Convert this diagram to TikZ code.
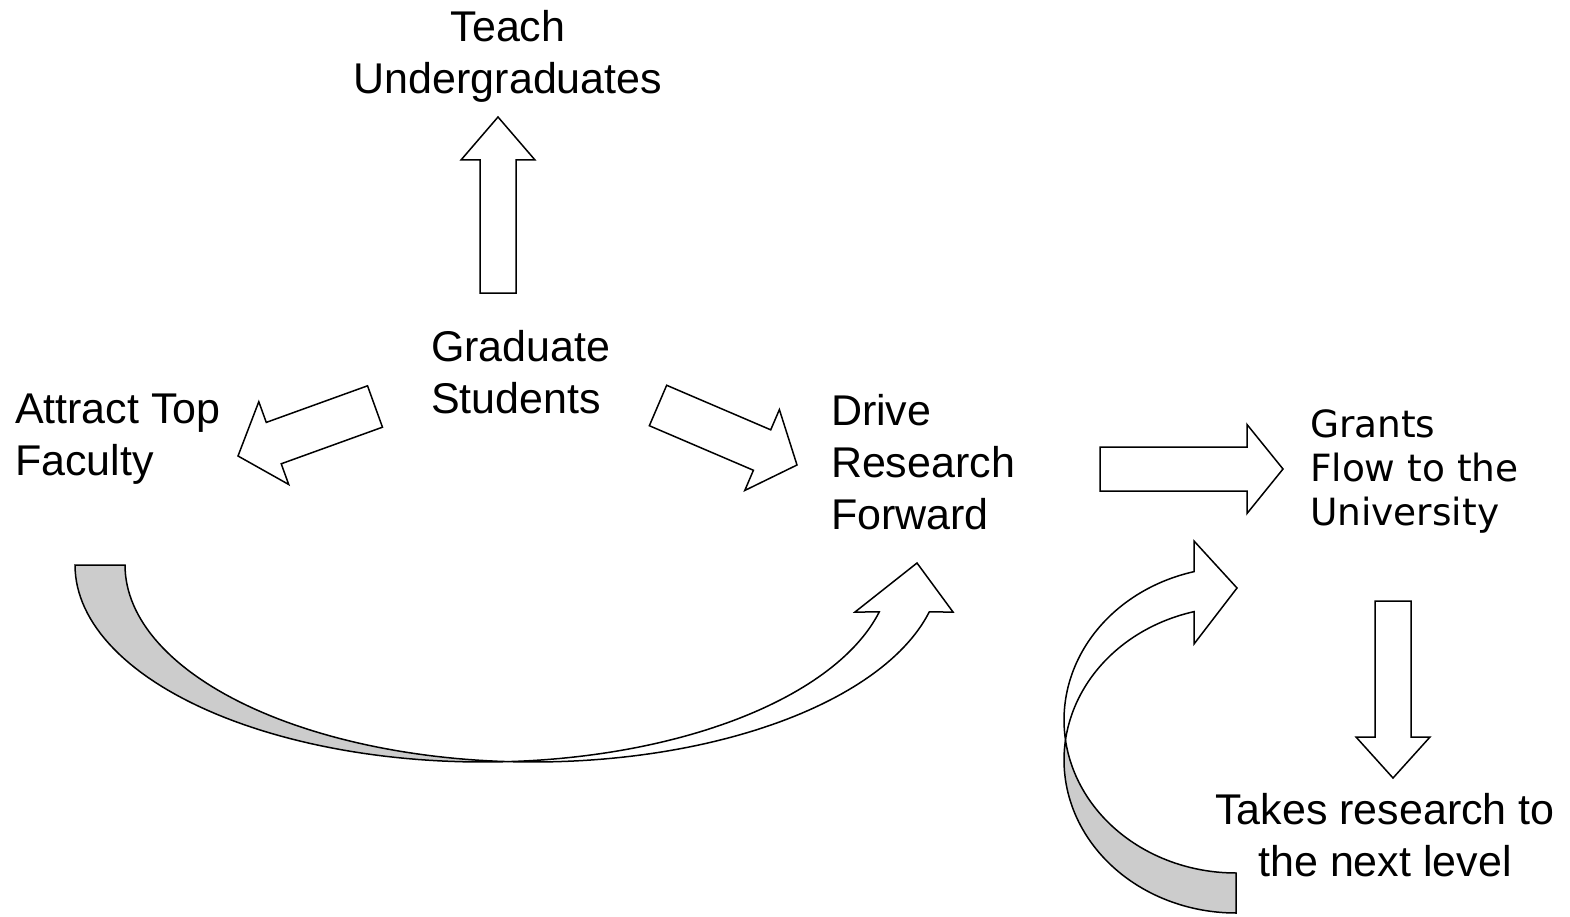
\documentclass[tikz,border=0pt]{standalone}
\usepackage{fontspec}
\setmainfont{Liberation Sans}
\newfontfamily\grantsfont{DejaVu Sans}
\definecolor{shadegray}{HTML}{CCCCCC}
\tikzset{
  blk/.style={draw=black, line width=1.5pt, fill=white, line join=miter},
  txt/.style={font=\fontsize{43}{52}\selectfont, inner sep=0pt, outer sep=0pt},
  gtxt/.style={font=\grantsfont\fontsize{37.5}{44}\selectfont, inner sep=0pt, outer sep=0pt},
}
% block arrow: tail (#1,#2), tip (#3,#4), shaft half width #5, head half width #6, head length #7
\newcommand\blockarrow[7]{%
  \pgfmathsetmacro\baang{atan2(#2-#4,#3-#1)}%
  \pgfmathsetmacro\balen{veclen(#3-#1,#4-#2)}%
  \pgfmathsetmacro\babase{\balen-#7}%
  \draw[blk,shift={(#1,#2)},rotate=\baang] (0,-#5) -- (\babase,-#5) -- (\babase,-#6) -- (\balen,0) -- (\babase,#6) -- (\babase,#5) -- (0,#5) -- cycle;}
\begin{document}
\begin{tikzpicture}[x=1pt,y=-1pt]
\useasboundingbox (0,0) rectangle (1570,917);

% texts
\node[txt, anchor=north, align=center] (teach) at (508,10) {Teach\\Undergraduates};
\node[txt, anchor=north west, align=left] (grad) at (431,330) {Graduate\\Students};
\node[txt, anchor=north west, align=left] (attract) at (15,394) {Attract Top\\Faculty};
\node[txt, anchor=north west, align=left] (drive) at (831,394) {Drive\\Research\\Forward};
\node[gtxt, anchor=north west, align=left] (grants) at (1310,410) {Grants\\Flow to the\\University};
\node[txt, anchor=north, align=center] (takes) at (1385,793) {Takes research to\\the next level};

% straight block arrows
\blockarrow{498}{293}{498}{117}{18}{37}{43}
\blockarrow{375}{406.5}{238}{456}{22}{44}{38}
\blockarrow{658}{405.5}{797}{465}{22}{44}{38}
\blockarrow{1100}{469}{1283}{469}{22}{44.5}{36}
\blockarrow{1393}{601}{1393}{778}{18}{37}{41}

% curved up arrow (bottom left)
\draw[blk, fill=shadegray] (125,565) -- (75,565)
  -- plot[domain=180:86.5, samples=60] ({483+408*cos(\x)},{565+197*sin(\x)})
  -- plot[domain=93.5:180, samples=60] ({533+408*cos(\x)},{565+197*sin(\x)}) -- cycle;
\draw[blk] plot[domain=93.5:13.8, samples=60] ({533+408*cos(\x)},{565+197*sin(\x)})
  -- (953,612) -- (917,563) -- (855,612)
  -- plot[domain=13.8:86.5, samples=60] ({483+408*cos(\x)},{565+197*sin(\x)}) -- cycle;

% curved right arrow (bottom right)
\draw[blk, fill=shadegray] (1236,913)
  -- plot[domain=90:187.5, samples=60] ({1236+172*cos(\x)},{760+153*sin(\x)})
  -- plot[domain=172.5:90, samples=60] ({1236+172*cos(\x)},{720+153*sin(\x)}) -- cycle;
\draw[blk] plot[domain=172.5:255.9, samples=60] ({1236+172*cos(\x)},{720+153*sin(\x)})
  -- (1194,541) -- (1237,588) -- (1194,644)
  -- plot[domain=255.9:187.5, samples=60] ({1236+172*cos(\x)},{760+153*sin(\x)}) -- cycle;
\end{tikzpicture}
\end{document}
